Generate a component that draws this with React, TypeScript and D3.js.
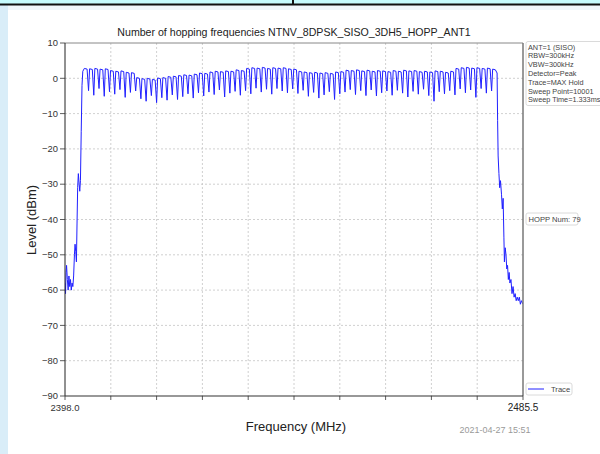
import React from "react";
import * as d3 from "d3";

const TITLE = "Number of hopping frequencies NTNV_8DPSK_SISO_3DH5_HOPP_ANT1";
const X_DOMAIN = [2398.0, 2485.5];
const Y_TICKS = [10, 0, -10, -20, -30, -40, -50, -60, -70, -80, -90];
const X_TICK_LABELS = ["2398.0", "2485.5"];
const INFO_LINES = [
  "ANT=1 (SISO)",
  "RBW=300kHz",
  "VBW=300kHz",
  "Detector=Peak",
  "Trace=MAX Hold",
  "Sweep Point=10001",
  "Sweep Time=1.333ms",
];
const HOPP_LABEL = "HOPP Num: 79";
const FIRST_CHANNEL = 2402;

// channel peak levels (dBm), 79 channels 2402..2480 MHz
const channelPeaks = [
  2.8, 2.7, 2.8, 2.6, 2.7,
  2.2, 2.0, 2.1, 1.7, 1.6,
  0.2, -0.1, 0.0, -0.3, 0.1, 0.2,
  0.5, 0.6, 0.8, 1.0, 0.9, 1.2, 1.5, 1.4, 1.8, 2.0,
  1.9, 2.1, 2.0, 2.4, 2.2, 2.8,
  3.0, 2.9, 3.1, 2.8, 3.0, 2.9, 3.0, 2.7, 2.6,
  2.0, 1.8, 1.6, 1.7, 1.5, 1.6, 1.4, 1.8, 1.9,
  2.3, 2.2, 2.4, 2.1, 2.3, 2.0, 2.2, 2.1, 1.9,
  2.2, 2.0, 2.3, 2.1, 2.2, 1.9, 2.0, 1.8, 2.1, 2.0, 1.7, 2.0,
  2.8, 3.0, 3.1, 2.9, 3.0, 2.8, 2.9, 2.6,
];

// dip levels (dBm) between adjacent channels (78 values)
const channelDips = [
  -3.5, -4.8, -2.9, -5.1, -3.8, -4.5, -3.2, -5.4, -4.0, -3.6,
  -5.8, -6.5, -4.9, -6.9, -5.5, -6.2, -4.7, -6.0, -5.2, -4.4,
  -5.6, -4.1, -5.0, -3.9, -4.6, -3.3, -5.3, -4.2, -3.7, -4.8,
  -3.5, -4.4, -2.8, -3.9, -3.1, -4.5, -2.9, -3.6, -4.1, -3.0,
  -4.3, -3.4, -5.1, -4.0, -5.6, -4.7, -3.8, -6.0, -4.4, -3.9,
  -3.2, -4.6, -3.5, -4.9, -3.3, -5.0, -4.1, -3.6, -4.8, -3.4,
  -4.2, -5.3, -3.7, -4.5, -3.1, -4.9, -6.5, -3.8, -4.4, -3.5,
  -4.7, -3.0, -4.1, -3.3, -5.4, -2.9, -4.2, -3.6,
];

// lower band edge [MHz, dBm]
const leftEdge: [number, number][] = [
  [2398.0, -58], [2398.1, -61], [2398.2, -55], [2398.3, -53], [2398.45, -57],
  [2398.6, -60], [2398.75, -56], [2398.9, -59], [2399.05, -57], [2399.2, -60],
  [2399.35, -58], [2399.5, -59], [2399.65, -56], [2399.8, -50], [2399.92, -47],
  [2400.05, -49], [2400.18, -52], [2400.3, -41], [2400.42, -31], [2400.55, -27],
  [2400.7, -30], [2400.82, -32], [2400.95, -29], [2401.1, -15], [2401.25, -2],
  [2401.4, 2.0],
];

// upper band edge [MHz, dBm]
const rightEdge: [number, number][] = [
  [2480.55, 1.5], [2480.65, -12], [2480.75, -22], [2480.9, -27], [2481.05, -31],
  [2481.2, -29], [2481.4, -33], [2481.55, -37], [2481.7, -34], [2481.85, -45],
  [2481.95, -52], [2482.1, -48], [2482.25, -50], [2482.4, -54], [2482.55, -53],
  [2482.7, -57], [2482.85, -55], [2483.0, -58], [2483.2, -57], [2483.4, -61],
  [2483.6, -59], [2483.8, -62], [2484.0, -61], [2484.2, -63], [2484.4, -62],
  [2484.6, -63], [2484.8, -62], [2485.0, -64], [2485.2, -63], [2485.5, -64],
];

const W = 600;
const H = 454;
const M = { left: 65, right: 523, top: 43, bottom: 396 };
const FONT = "'Liberation Sans', Arial, sans-serif";

function buildTrace(): [number, number][] {
  const pts: [number, number][] = [...leftEdge];
  channelPeaks.forEach((pk, i) => {
    const f = FIRST_CHANNEL + i;
    pts.push([f - 0.3, pk]);
    pts.push([f + 0.22, pk - 0.2]);
    if (i < channelDips.length) pts.push([f + 0.5, channelDips[i]]);
  });
  return pts.concat(rightEdge);
}

export default function App() {
  const x = d3.scaleLinear().domain(X_DOMAIN).range([M.left, M.right]);
  const y = d3.scaleLinear().domain([-90, 10]).range([M.bottom, M.top]);
  const xTicks = d3.range(0, 11).map((k) => X_DOMAIN[0] + (k * (X_DOMAIN[1] - X_DOMAIN[0])) / 10);
  const line = d3
    .line<[number, number]>()
    .x((d) => x(d[0]))
    .y((d) => y(d[1]));
  const trace = buildTrace();

  return (
    <div style={{ position: "absolute", left: 0, top: 0 }}>
      <svg width={W} height={H} style={{ display: "block" }} fontFamily={FONT}>
        <defs>
          <clipPath id="plotClip">
            <rect x={M.left} y={M.top} width={M.right - M.left} height={M.bottom - M.top} />
          </clipPath>
        </defs>
        {/* page background */}
        <rect x={0} y={0} width={W} height={H} fill="#ffffff" />
        <rect x={0} y={0} width={8} height={H} fill="#d9edf8" />
        <rect x={8} y={5} width={W - 8} height={5} fill="#f1f8fc" />
        <rect x={0} y={0} width={W} height={4} fill="#c6fbfd" />
        <rect x={0} y={3.5} width={W} height={2} fill="#111" />
        <rect x={292} y={0} width={2} height={5} fill="#111" />

        {/* title */}
        <text x={294} y={36} textAnchor="middle" fontSize={10.6} fill="#222">
          {TITLE}
        </text>

        {/* grid */}
        {Y_TICKS.filter((t) => t !== 10 && t !== -90).map((t) => (
          <line key={"gy" + t} x1={M.left} x2={M.right} y1={y(t)} y2={y(t)} stroke="#c4c4c4" strokeWidth={0.8} strokeDasharray="2,2" />
        ))}
        {xTicks.slice(1, -1).map((t, i) => (
          <line key={"gx" + i} x1={x(t)} x2={x(t)} y1={M.top} y2={M.bottom} stroke="#c4c4c4" strokeWidth={0.8} strokeDasharray="2,2" />
        ))}

        {/* trace */}
        <path d={line(trace) || ""} fill="none" stroke="#2020ff" strokeWidth={1} clipPath="url(#plotClip)" />

        {/* frame */}
        <line x1={M.left} x2={M.right} y1={M.top} y2={M.top} stroke="#888" strokeWidth={1} />
        <line x1={M.right} x2={M.right} y1={M.top} y2={M.bottom} stroke="#777" strokeWidth={1.5} />
        <line x1={M.left} x2={M.left} y1={M.top} y2={M.bottom} stroke="#222" strokeWidth={1} />
        <line x1={M.left} x2={M.right} y1={M.bottom} y2={M.bottom} stroke="#333" strokeWidth={1.2} />

        {/* y ticks */}
        {Y_TICKS.map((t) => (
          <g key={"yt" + t}>
            <line x1={M.left - 5} x2={M.left} y1={y(t)} y2={y(t)} stroke="#333" strokeWidth={0.8} />
            <text x={M.left - 7} y={y(t) + 3.2} textAnchor="end" fontSize={9.4} fill="#333">
              {t === 0 ? "0" : t > 0 ? String(t) : "\u2212" + String(-t)}
            </text>
          </g>
        ))}
        {/* x ticks */}
        {xTicks.map((t, i) => (
          <line key={"xt" + i} x1={x(t)} x2={x(t)} y1={M.bottom} y2={M.bottom + 4} stroke="#333" strokeWidth={0.8} />
        ))}
        <text x={x(X_DOMAIN[0])} y={411} textAnchor="middle" fontSize={9.5} fill="#333">
          {X_TICK_LABELS[0]}
        </text>
        <text x={x(X_DOMAIN[1])} y={411} textAnchor="middle" fontSize={10} fill="#222">
          {X_TICK_LABELS[1]}
        </text>

        {/* axis labels */}
        <text x={296} y={431} textAnchor="middle" fontSize={13} fill="#222">
          Frequency (MHz)
        </text>
        <text transform="translate(36,220) rotate(-90)" textAnchor="middle" fontSize={13} fill="#222">
          Level (dBm)
        </text>
        <text x={495} y={433} textAnchor="middle" fontSize={9} fill="#9a9a9a">
          2021-04-27 15:51
        </text>

        {/* info box */}
        <rect x={526} y={41.5} width={80} height={64} rx={2} fill="#fff" stroke="#d0d0d0" strokeWidth={0.8} />
        {INFO_LINES.map((s, i) => (
          <text key={s} x={528} y={49.5 + i * 8.8} fontSize={7.3} fill="#444">
            {s}
          </text>
        ))}

        {/* HOPP label */}
        <rect x={526} y={213} width={52} height={12} rx={2} fill="#fff" stroke="#d0d0d0" strokeWidth={0.8} />
        <text x={528.5} y={222} fontSize={7.6} fill="#444">
          {HOPP_LABEL}
        </text>

        {/* legend */}
        <rect x={526} y={383} width={46} height={12} rx={2} fill="#fff" stroke="#d0d0d0" strokeWidth={0.8} />
        <line x1={528} x2={544} y1={389} y2={389} stroke="#2020ff" strokeWidth={1} />
        <text x={551} y={392} fontSize={7.6} fill="#444">
          Trace
        </text>
      </svg>
    </div>
  );
}
